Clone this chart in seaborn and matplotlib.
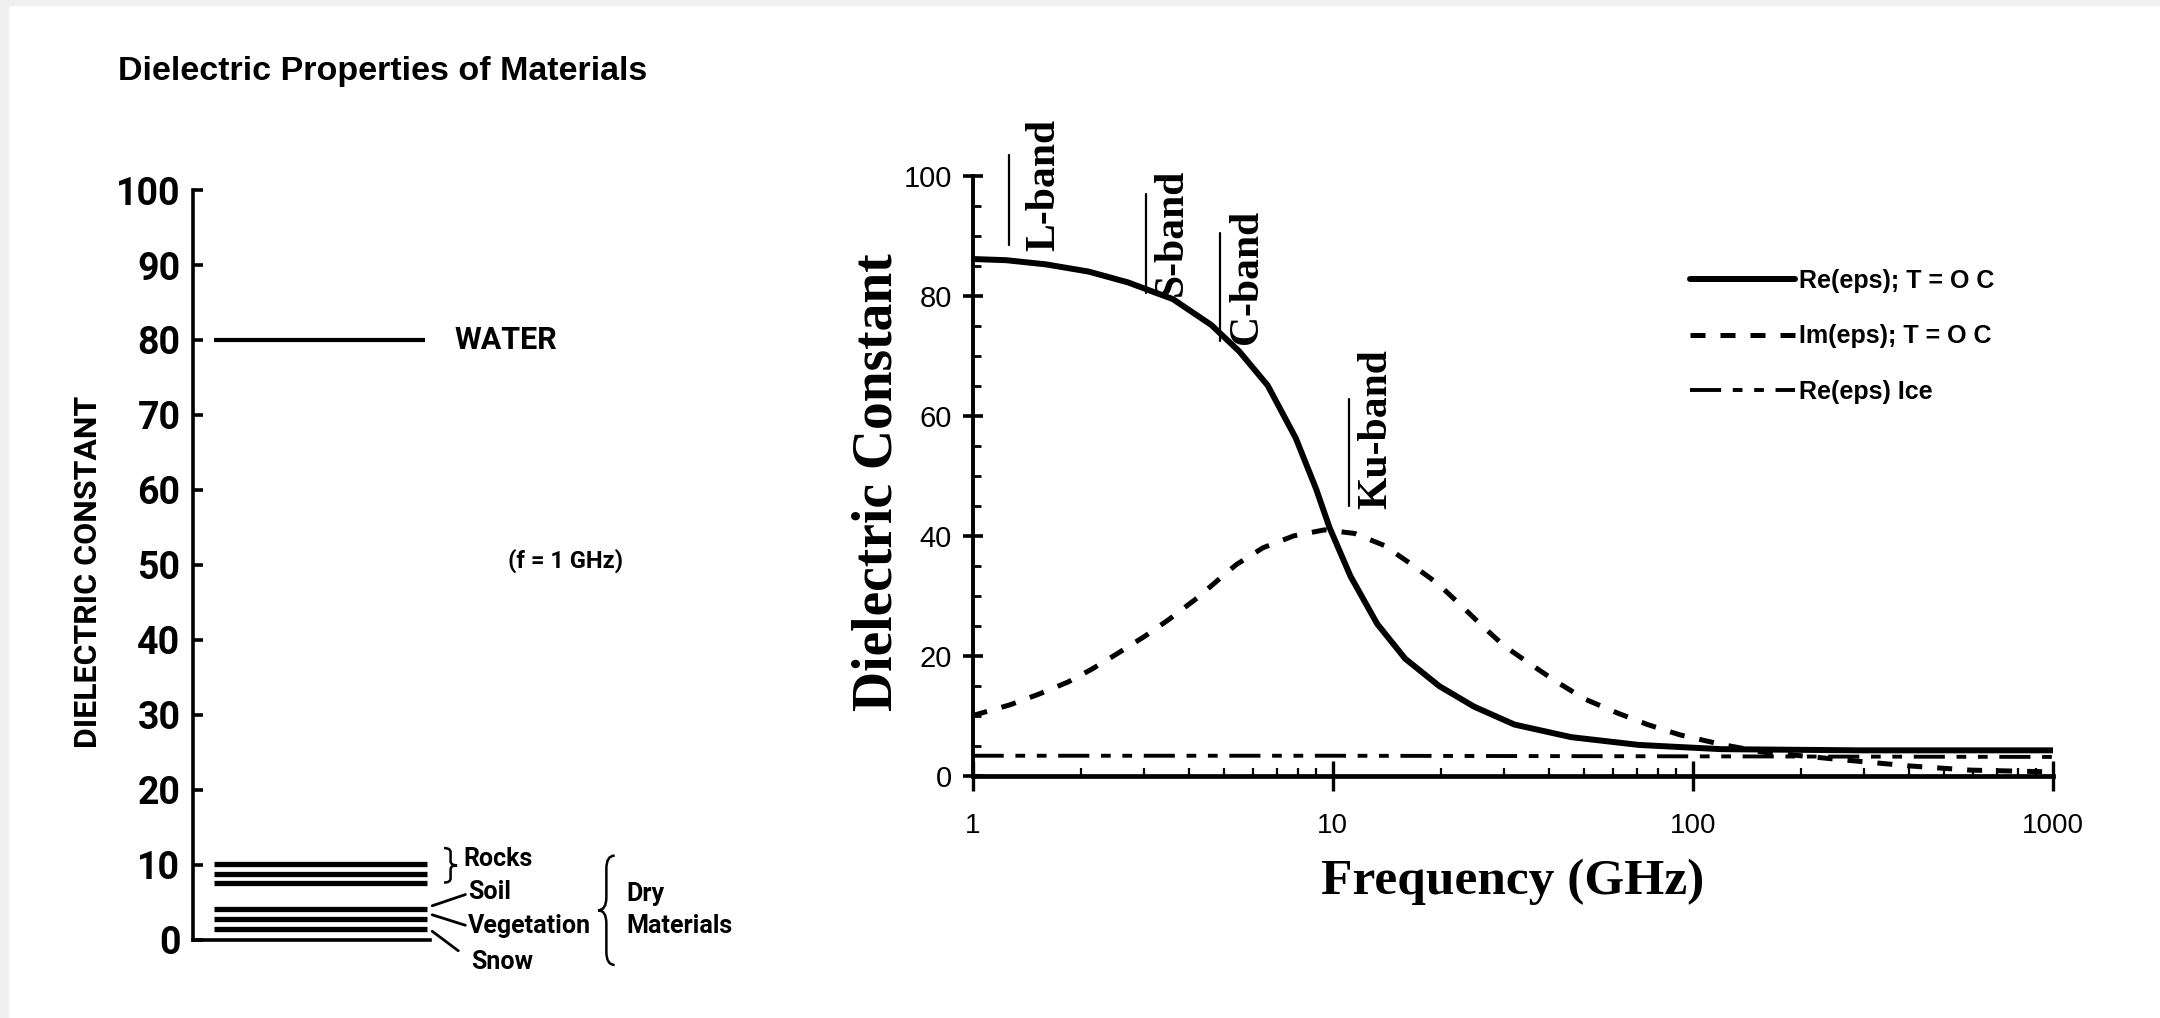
import matplotlib
matplotlib.use("Agg")
import matplotlib.pyplot as plt
from matplotlib.font_manager import FontProperties
from matplotlib.path import Path
from matplotlib.patches import PathPatch, Rectangle
from matplotlib.ticker import MultipleLocator, LogLocator, NullFormatter
import seaborn as sns

# left panel: dielectric constant of materials at 1 GHz
material_names = ["WATER", "Rocks", "Rocks", "Rocks", "Soil", "Vegetation", "Snow"]
material_eps = [80, 10.1, 8.8, 7.6, 4.1, 2.8, 1.4]
left_yticks = [0, 10, 20, 30, 40, 50, 60, 70, 80, 90, 100]

# right panel: water / ice permittivity vs frequency (GHz)
freq_re = [1, 1.24, 1.6, 2.1, 2.7, 3.6, 4.6, 5.5, 6.6, 7.9, 9.0, 9.8, 11.2, 13.3,
           15.9, 19.8, 24.7, 32, 46, 71, 120, 290, 1000]
re_water = [86.2, 86.0, 85.3, 84.1, 82.3, 79.5, 75.2, 70.8, 65.1, 56.3, 47.8, 41.4,
            33.3, 25.3, 19.5, 14.9, 11.5, 8.5, 6.4, 5.1, 4.4, 4.2, 4.2]
freq_im = [1, 1.27, 1.53, 1.84, 2.15, 2.5, 3.0, 3.5, 4.2, 4.8, 5.4, 6.4, 7.8, 9.5,
           11.5, 13.9, 16.6, 19.6, 22, 26, 30, 36, 42, 50, 62, 75, 92, 120, 157,
           263, 400, 590, 1000]
im_water = [10.0, 11.8, 13.6, 15.6, 17.8, 20.2, 23.2, 26.0, 29.6, 32.6, 35.2, 38.0,
            40.0, 41.0, 40.4, 38.4, 35.2, 32.0, 29.2, 25.0, 21.6, 18.3, 15.6, 12.8,
            10.4, 8.5, 6.8, 5.2, 3.9, 2.6, 1.6, 0.9, 0.6]
freq_ice = [1, 10, 100, 1000]
re_ice = [3.3, 3.3, 3.2, 3.1]
series_labels = ["Re(eps); T = O C", "Im(eps); T = O C", "Re(eps) Ice"]

bands = ["L-band", "S-band", "C-band", "Ku-band"]
band_text_pos = [(1.58, 87.6), (3.58, 80.0), (5.8, 72.0), (13.2, 44.4)]
band_bar_pos = [(1.26, 88.5, 103.5), (3.04, 80.5, 97.0), (4.87, 72.5, 90.5), (11.1, 45.0, 62.8)]

sns.set_theme(style="ticks")
plt.rcParams["font.family"] = ["Liberation Sans", "DejaVu Sans"]
plt.rcParams.update({"text.color": "black", "axes.labelcolor": "black",
                     "xtick.color": "black", "ytick.color": "black"})

narrow = dict(family=["Roboto", "DejaVu Sans"], weight="bold")
serif = dict(family=["Liberation Serif", "DejaVu Serif"], weight="bold")


def brace(ax, x0, y_top, y_bot, width, lw=1.8):
    # curly brace drawn as a path; width > 0 puts the tip on the right
    m = (y_top + y_bot) / 2
    d = (y_top - y_bot) * 0.12
    h = x0 + width / 2
    verts = [(x0, y_top), (h, y_top), (h, y_top - d), (h, m + d), (h, m), (x0 + width, m),
             (h, m), (h, m - d), (h, y_bot + d), (h, y_bot), (x0, y_bot)]
    codes = [Path.MOVETO, Path.CURVE3, Path.CURVE3, Path.LINETO, Path.CURVE3, Path.CURVE3,
             Path.CURVE3, Path.CURVE3, Path.LINETO, Path.CURVE3, Path.CURVE3]
    ax.add_patch(PathPatch(Path(verts, codes), fill=False, lw=lw, color="black", clip_on=False))


fig = plt.figure(figsize=(21.6, 10.18), dpi=100)
fig.patch.set_facecolor("white")
# scan border
fig.patches.append(Rectangle((0, 1 - 5 / 1018), 1, 5 / 1018, transform=fig.transFigure,
                             color="#f0f0f0", zorder=0))
fig.patches.append(Rectangle((0, 0), 8 / 2160, 1, transform=fig.transFigure,
                             color="#f0f0f0", zorder=0))

# ---------------- left panel ----------------
axL = fig.add_axes([0.0893, 0.0771, 0.1097, 0.7362])
axL.set_xlim(0, 1)
axL.set_ylim(0, 100)
sns.despine(ax=axL)
for side in ["left", "bottom"]:
    axL.spines[side].set_linewidth(2.6)
    axL.spines[side].set_color("black")
axL.set_xticks([])
axL.set_yticks(left_yticks)
axL.tick_params(axis="y", left=True, direction="in", length=7, width=2.6, pad=9, colors="black")
tick_fp = FontProperties(size=27, **narrow)
for lab in axL.get_yticklabels():
    lab.set_fontproperties(tick_fp)

axL.hlines(material_eps, 0.09, [0.98] + [0.99] * 6, color="black",
           lw=[3.0] + [3.8] * 6)
axL.text(1.105, material_eps[0], material_names[0], va="center", ha="left", fontsize=22, **narrow)
axL.text(1.33, 50.5, "(f = 1 GHz)", va="center", ha="left", fontsize=17, **narrow)

small = dict(fontsize=18, va="center", ha="left", **narrow)
axL.text(1.14, 10.8, material_names[1], **small)
axL.text(1.16, 6.3, material_names[4], **small)
axL.text(1.16, 1.8, material_names[5], **small)
axL.text(1.175, -3.0, material_names[6], **small)
axL.text(1.83, 6.1, "Dry", **small)
axL.text(1.83, 1.8, "Materials", **small)

brace(axL, 1.06, 12.2, 7.6, 0.055)
brace(axL, 1.78, 11.2, -3.4, -0.07)
axL.plot([1.01, 1.15], [4.5, 6.0], color="black", lw=2.0, clip_on=False)
axL.plot([1.01, 1.15], [3.3, 1.9], color="black", lw=2.0, clip_on=False)
axL.plot([1.01, 1.12], [1.1, -1.5], color="black", lw=2.0, clip_on=False)

fig.text(0.0548, 0.9296, "Dielectric Properties of Materials", ha="left", va="center",
         fontsize=24.5, weight="bold", family=["Liberation Sans", "DejaVu Sans"])
fig.text(0.0408, 0.4384, "DIELECTRIC CONSTANT", rotation=90, ha="center", va="center",
         fontsize=23, **narrow)

# ---------------- right panel ----------------
axR = fig.add_axes([0.4503, 0.2382, 0.5, 0.5886])
sns.lineplot(x=freq_re, y=re_water, ax=axR, color="black", lw=4.3, label=series_labels[0])
sns.lineplot(x=freq_im, y=im_water, ax=axR, color="black", lw=3.6,
             linestyle=(0, (3, 3)), label=series_labels[1])
sns.lineplot(x=freq_ice, y=re_ice, ax=axR, color="black", lw=2.8,
             linestyle=(0, (8, 3, 2.5, 3, 2.5, 3)), label=series_labels[2])
axR.set_xscale("log")
axR.set_xlim(1, 1000)
axR.set_ylim(0, 100)
sns.despine(ax=axR)
axR.spines["left"].set_linewidth(2.8)
axR.spines["bottom"].set_linewidth(3.4)
axR.spines["left"].set_color("black")
axR.spines["bottom"].set_color("black")
axR.set_xlabel("")
axR.set_ylabel("")

axR.set_xticks([1, 10, 100, 1000])
axR.set_xticklabels(["1", "10", "100", "1000"])
axR.xaxis.set_minor_locator(LogLocator(base=10, subs=range(2, 10)))
axR.xaxis.set_minor_formatter(NullFormatter())
axR.set_yticks([0, 20, 40, 60, 80, 100])
axR.yaxis.set_minor_locator(MultipleLocator(5))
axR.tick_params(axis="y", which="major", left=True, direction="inout", length=14, width=2.6,
                pad=8, labelsize=21, colors="black")
axR.tick_params(axis="y", which="minor", left=True, direction="in", length=6, width=2.0)
axR.tick_params(axis="x", which="major", bottom=True, direction="inout", length=22, width=2.4,
                pad=16, labelsize=20, colors="black")
axR.tick_params(axis="x", which="minor", bottom=True, direction="in", length=6, width=1.6)

for name, (fx, fy), (bx, b0, b1) in zip(bands, band_text_pos, band_bar_pos):
    axR.text(fx, fy, name, rotation=90, ha="center", va="bottom", fontsize=30,
             clip_on=False, **serif)
    axR.plot([bx, bx], [b0, b1], color="black", lw=1.6, clip_on=False)

leg = axR.legend(loc="upper left", bbox_to_anchor=(0.7768, 0.748),
                 bbox_transform=fig.transFigure, frameon=False, fontsize=18,
                 handlelength=4.2, handletextpad=0.15, labelspacing=1.25, borderpad=0)
for t in leg.get_texts():
    t.set_fontweight("bold")
    t.set_color("black")

fig.text(0.4063, 0.5264, "Dielectric Constant", rotation=90, ha="center", va="center",
         fontsize=40, **serif)
fig.text(0.7003, 0.134, "Frequency (GHz)", ha="center", va="center", fontsize=37, **serif)

fig.savefig("out.png", dpi=100)
